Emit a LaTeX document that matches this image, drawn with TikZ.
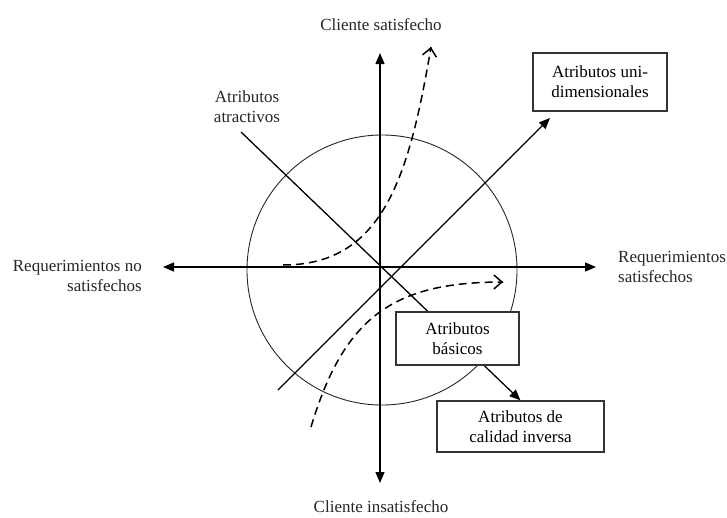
\documentclass[tikz,border=0pt]{standalone}
\usepackage{fontspec}
\setmainfont{Liberation Serif}
\usetikzlibrary{arrows.meta,calc}

\begin{document}
\begin{tikzpicture}[x=1pt,y=-1pt,
  every node/.style={font=\fontsize{17}{20}\selectfont, inner sep=0pt},
  axisline/.style={line width=1.3pt, draw=black},
  bothtips/.style={{Triangle[length=11pt,width=9pt]}-{Triangle[length=11pt,width=9pt]}},
  solidtip/.style={-{Triangle[length=11pt,width=9pt]}},
  flow/.style={line width=1.5pt, dash pattern=on 8pt off 5pt},
  flowtip/.style={line width=1.5pt, -{Straight Barb[length=8pt,width=14pt]}},
  attrbox/.style={draw=black!80, line width=1.2pt, fill=white, align=center},
  caption/.style={text=black!85}
]
\useasboundingbox (0,0) rectangle (727,517);

% satisfaction circle
\draw[line width=0.9pt, black!85] (382,270) circle[radius=135];

% axes
\coordinate (vTop) at (380,53);
\coordinate (vBot) at (380,483);
\coordinate (hLeft) at (163,267);
\coordinate (hRight) at (596,267);
\draw[axisline, bothtips] (vBot) -- (vTop);
\draw[axisline, bothtips] (hLeft) -- (hRight);

% axis labels
\node[caption, anchor=base] (cs) at (381,30) {Cliente satisfecho};
\node[caption, anchor=base] (ci) at (381,512) {Cliente insatisfecho};
\node[caption, anchor=north east, align=right] (rn) at (142,260) {Requerimientos no\\satisfechos};
\node[caption, anchor=north west, align=left] (rs) at (618,251) {Requerimientos\\satisfechos};
\node[caption, anchor=north, align=center] (attr) at (247,91) {Atributos\\atractivos};

% attribute boxes
\node[attrbox, minimum width=134pt, minimum height=58pt] (uni) at (600,82) {Atributos uni-\\dimensionales};
\node[attrbox, minimum width=167pt, minimum height=51pt] (inv) at (520.5,426.5) {Atributos de\\calidad inversa};

% diagonal lines
\coordinate (attrStart) at (241,132);
\draw[axisline, solidtip] (attrStart) -- (inv.north);
\coordinate (uStart) at (278,390);
\coordinate (uTip) at (550,118);
\draw[axisline, solidtip] (uStart) -- (uTip);

% basic attributes box sits on top of the diagonal
\node[attrbox, minimum width=123pt, minimum height=53pt] (bas) at (457.5,338.5) {Atributos\\básicos};

% dashed satisfaction curves, each ending in an open solid barb
\coordinate (c1s) at (283,265);
\coordinate (c1c) at (409,177);
\coordinate (c1e) at (431,47);
\draw[flow] (c1s) .. controls (383,265) and (c1c) .. (c1e);
\draw[flowtip] ($(c1e)!1pt!(c1c)$) -- (c1e);
\coordinate (c2s) at (311,427);
\coordinate (c2c) at (393,282);
\coordinate (c2e) at (503,282);
\draw[flow] (c2s) .. controls (344,317) and (c2c) .. (c2e);
\draw[flowtip] ($(c2e)!1pt!(c2c)$) -- (c2e);
\end{tikzpicture}
\end{document}
